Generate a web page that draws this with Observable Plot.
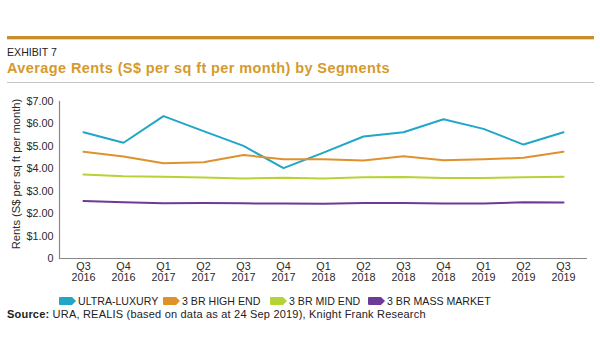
<!DOCTYPE html>
<html>
<head>
<meta charset="utf-8">
<script src="https://cdn.jsdelivr.net/npm/d3@7"></script>
<script src="https://cdn.jsdelivr.net/npm/@observablehq/plot@0.6"></script>
<style>
  html, body { margin: 0; padding: 0; background: #fff; }
  body { width: 600px; height: 360px; position: relative; overflow: hidden; font-family: Arial, "Liberation Sans", sans-serif; }
  .abs { position: absolute; line-height: 1; white-space: nowrap; }
  #topRule { left: 7px; top: 36px; width: 587px; height: 3px; background: #c98f2f; }
  #topRule2 { left: 7px; top: 39px; width: 587px; height: 1px; background: #f1d9a6; }
  #exhibit { left: 7px; top: 47px; font-size: 10.6px; color: #222; }
  #title { left: 7px; top: 61px; font-size: 14.5px; letter-spacing: 0.4px; font-weight: bold; color: #d59a2c; }
  #grayRule { left: 7px; top: 82px; width: 587px; height: 1px; background: #c4c4c4; }
  #chart { left: 0; top: 90px; }
  .leg { top: 296px; font-size: 10.6px; color: #222; display: flex; align-items: center; }
  .leg svg { margin-right: 2px; }
  #source { left: 7px; top: 308.5px; font-size: 11px; letter-spacing: 0.2px; color: #222; }
</style>
</head>
<body>
<div class="abs" id="topRule"></div>
<div class="abs" id="topRule2"></div>
<div class="abs" id="exhibit">EXHIBIT 7</div>
<div class="abs" id="title">Average Rents (S$ per sq ft per month) by Segments</div>
<div class="abs" id="grayRule"></div>
<div class="abs" id="chart"></div>
<div id="legend"></div>
<div class="abs" id="source"><b>Source:</b> URA, REALIS (based on data as at 24 Sep 2019), Knight Frank Research</div>
<script>
const quarters = ["Q3\n2016","Q4\n2016","Q1\n2017","Q2\n2017","Q3\n2017","Q4\n2017","Q1\n2018","Q2\n2018","Q3\n2018","Q4\n2018","Q1\n2019","Q2\n2019","Q3\n2019"];
const seriesNames = ["ULTRA-LUXURY","3 BR HIGH END","3 BR MID END","3 BR MASS MARKET"];
const seriesColors = ["#22a6c8","#df912c","#b5d334","#6e3a97"];
const ultraLuxury = [5.63,5.16,6.35,5.68,5.02,4.03,4.72,5.44,5.63,6.21,5.78,5.08,5.63];
const highEnd     = [4.76,4.55,4.25,4.29,4.61,4.43,4.43,4.37,4.56,4.38,4.42,4.49,4.76];
const midEnd      = [3.74,3.67,3.64,3.61,3.57,3.60,3.57,3.62,3.63,3.59,3.59,3.62,3.65];
const massMarket  = [2.56,2.51,2.46,2.47,2.46,2.45,2.44,2.48,2.47,2.45,2.45,2.51,2.50];
const yTicks = [0,1,2,3,4,5,6,7];
const yLabel = "Rents (S$ per sq ft per month)";
const allSeries = [ultraLuxury, highEnd, midEnd, massMarket];

const data = [];
allSeries.forEach((vals, si) => vals.forEach((v, i) => data.push({q: quarters[i], v, s: seriesNames[si]})));

const chart = Plot.plot({
  width: 600,
  height: 200,
  marginTop: 11,
  marginBottom: 32,
  marginLeft: 59,
  marginRight: 13,
  style: {fontFamily: "Arial, 'Liberation Sans', sans-serif", fontSize: "10.8px", color: "#2a2a2a", background: "#fff"},
  x: {type: "point", domain: quarters, padding: 0.55},
  y: {domain: [0, 7]},
  color: {domain: seriesNames, range: seriesColors},
  marks: [
    Plot.axisY({ticks: yTicks, tickSize: 0, tickPadding: 6, tickFormat: d => d === 0 ? "0" : "$" + d.toFixed(2), label: null}),
    Plot.text([yLabel], {frameAnchor: "left", textAnchor: "middle", lineAnchor: "middle", rotate: -90, dx: -43, dy: -6, fontSize: 11.2, fill: "#2a2a2a"}),
    Plot.axisX({tickSize: 0, tickPadding: 4, label: null, lineHeight: 1}),
    Plot.frame({anchor: "left", stroke: "#888", strokeWidth: 1.2}),
    Plot.ruleY([0], {stroke: "#888", strokeWidth: 1.2}),
    Plot.line(data, {x: "q", y: "v", z: "s", stroke: "s", strokeWidth: 2})
  ]
});
document.getElementById("chart").appendChild(chart);

const legendX = [59, 163, 270, 368];
const legend = document.getElementById("legend");
seriesNames.forEach((name, i) => {
  const item = document.createElement("div");
  item.className = "abs leg";
  item.style.left = legendX[i] + "px";
  item.innerHTML = `<svg width="17" height="8" viewBox="0 0 17 8"><path d="M1,0 H13 L17,4 L13,8 H1 Q0,8 0,7 V1 Q0,0 1,0 Z" fill="${seriesColors[i]}"/></svg><span>${name}</span>`;
  legend.appendChild(item);
});
</script>
</body>
</html>
